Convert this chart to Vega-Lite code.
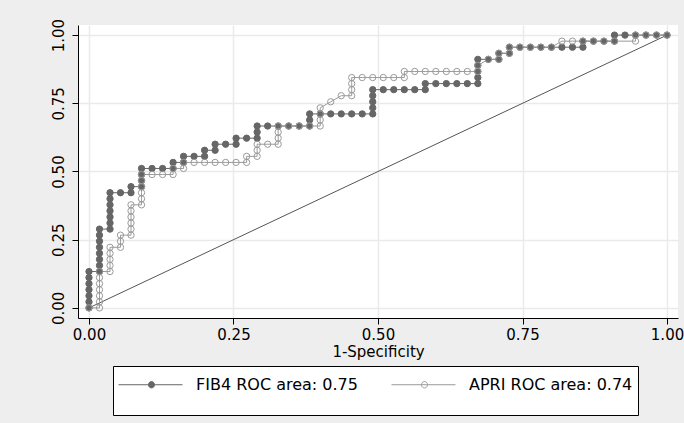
{
"$schema":"https://vega.github.io/schema/vega-lite/v6.json",
"width":600,"height":293,
"autosize":{"type":"none"},
"padding":{"left":78,"top":25,"right":6,"bottom":105},
"background":"#eeeeee",
"config":{
"view":{"fill":"#ffffff","stroke":null},
"font":"DejaVu Sans",
"axis":{"labelFont":"DejaVu Sans","labelFontSize":15,"labelColor":"#000000","tickColor":"#000000","domainColor":"#000000","tickSize":6,"gridColor":"#eaeaea","gridWidth":1.5,"domainWidth":1,"tickWidth":1,"titleFont":"DejaVu Sans","titleFontSize":15,"titleFontWeight":"normal","titleColor":"#000000","labelFlush":false,"labelOverlap":false},
"legend":{"orient":"none","legendX":35,"legendY":341,"direction":"horizontal","strokeColor":"#000000","fillColor":"#ffffff","padding":5,"columnPadding":31,"labelOffset":41,"symbolSize":1296,"symbolStrokeWidth":1,"symbolType":"M0,1M-1,-0.278L2.556,-0.278M0.667,-0.278A0.1667,0.1667 0 1,0 1,-0.278A0.1667,0.1667 0 1,0 0.667,-0.278Z","labelFont":"DejaVu Sans","labelFontSize":16,"labelColor":"#000000","labelBaseline":"alphabetic","labelLimit":400}
},
"datasets":{
"ref":[{"x":0,"y":0},{"x":1,"y":1}],
"roc":[
{"s":"FIB4 ROC area: 0.75","k":0,"x":0,"y":0},
{"s":"FIB4 ROC area: 0.75","k":1,"x":0,"y":0.0222},
{"s":"FIB4 ROC area: 0.75","k":2,"x":0,"y":0.0444},
{"s":"FIB4 ROC area: 0.75","k":3,"x":0,"y":0.0667},
{"s":"FIB4 ROC area: 0.75","k":4,"x":0,"y":0.0889},
{"s":"FIB4 ROC area: 0.75","k":5,"x":0,"y":0.1111},
{"s":"FIB4 ROC area: 0.75","k":6,"x":0,"y":0.1333},
{"s":"FIB4 ROC area: 0.75","k":7,"x":0.0182,"y":0.1333},
{"s":"FIB4 ROC area: 0.75","k":8,"x":0.0182,"y":0.1556},
{"s":"FIB4 ROC area: 0.75","k":9,"x":0.0182,"y":0.1778},
{"s":"FIB4 ROC area: 0.75","k":10,"x":0.0182,"y":0.2},
{"s":"FIB4 ROC area: 0.75","k":11,"x":0.0182,"y":0.2222},
{"s":"FIB4 ROC area: 0.75","k":12,"x":0.0182,"y":0.2444},
{"s":"FIB4 ROC area: 0.75","k":13,"x":0.0182,"y":0.2667},
{"s":"FIB4 ROC area: 0.75","k":14,"x":0.0182,"y":0.2889},
{"s":"FIB4 ROC area: 0.75","k":15,"x":0.0364,"y":0.2889},
{"s":"FIB4 ROC area: 0.75","k":16,"x":0.0364,"y":0.3111},
{"s":"FIB4 ROC area: 0.75","k":17,"x":0.0364,"y":0.3333},
{"s":"FIB4 ROC area: 0.75","k":18,"x":0.0364,"y":0.3556},
{"s":"FIB4 ROC area: 0.75","k":19,"x":0.0364,"y":0.3778},
{"s":"FIB4 ROC area: 0.75","k":20,"x":0.0364,"y":0.4},
{"s":"FIB4 ROC area: 0.75","k":21,"x":0.0364,"y":0.4222},
{"s":"FIB4 ROC area: 0.75","k":22,"x":0.0545,"y":0.4222},
{"s":"FIB4 ROC area: 0.75","k":23,"x":0.0727,"y":0.4222},
{"s":"FIB4 ROC area: 0.75","k":24,"x":0.0727,"y":0.4444},
{"s":"FIB4 ROC area: 0.75","k":25,"x":0.0909,"y":0.4444},
{"s":"FIB4 ROC area: 0.75","k":26,"x":0.0909,"y":0.4667},
{"s":"FIB4 ROC area: 0.75","k":27,"x":0.0909,"y":0.4889},
{"s":"FIB4 ROC area: 0.75","k":28,"x":0.0909,"y":0.5111},
{"s":"FIB4 ROC area: 0.75","k":29,"x":0.1091,"y":0.5111},
{"s":"FIB4 ROC area: 0.75","k":30,"x":0.1273,"y":0.5111},
{"s":"FIB4 ROC area: 0.75","k":31,"x":0.1455,"y":0.5111},
{"s":"FIB4 ROC area: 0.75","k":32,"x":0.1455,"y":0.5333},
{"s":"FIB4 ROC area: 0.75","k":33,"x":0.1636,"y":0.5333},
{"s":"FIB4 ROC area: 0.75","k":34,"x":0.1636,"y":0.5556},
{"s":"FIB4 ROC area: 0.75","k":35,"x":0.1818,"y":0.5556},
{"s":"FIB4 ROC area: 0.75","k":36,"x":0.2,"y":0.5556},
{"s":"FIB4 ROC area: 0.75","k":37,"x":0.2,"y":0.5778},
{"s":"FIB4 ROC area: 0.75","k":38,"x":0.2182,"y":0.5778},
{"s":"FIB4 ROC area: 0.75","k":39,"x":0.2182,"y":0.6},
{"s":"FIB4 ROC area: 0.75","k":40,"x":0.2364,"y":0.6},
{"s":"FIB4 ROC area: 0.75","k":41,"x":0.2545,"y":0.6},
{"s":"FIB4 ROC area: 0.75","k":42,"x":0.2545,"y":0.6222},
{"s":"FIB4 ROC area: 0.75","k":43,"x":0.2727,"y":0.6222},
{"s":"FIB4 ROC area: 0.75","k":44,"x":0.2909,"y":0.6222},
{"s":"FIB4 ROC area: 0.75","k":45,"x":0.2909,"y":0.6444},
{"s":"FIB4 ROC area: 0.75","k":46,"x":0.2909,"y":0.6667},
{"s":"FIB4 ROC area: 0.75","k":47,"x":0.3091,"y":0.6667},
{"s":"FIB4 ROC area: 0.75","k":48,"x":0.3273,"y":0.6667},
{"s":"FIB4 ROC area: 0.75","k":49,"x":0.3455,"y":0.6667},
{"s":"FIB4 ROC area: 0.75","k":50,"x":0.3636,"y":0.6667},
{"s":"FIB4 ROC area: 0.75","k":51,"x":0.3818,"y":0.6667},
{"s":"FIB4 ROC area: 0.75","k":52,"x":0.3818,"y":0.6889},
{"s":"FIB4 ROC area: 0.75","k":53,"x":0.3818,"y":0.7111},
{"s":"FIB4 ROC area: 0.75","k":54,"x":0.4,"y":0.7111},
{"s":"FIB4 ROC area: 0.75","k":55,"x":0.4182,"y":0.7111},
{"s":"FIB4 ROC area: 0.75","k":56,"x":0.4364,"y":0.7111},
{"s":"FIB4 ROC area: 0.75","k":57,"x":0.4545,"y":0.7111},
{"s":"FIB4 ROC area: 0.75","k":58,"x":0.4727,"y":0.7111},
{"s":"FIB4 ROC area: 0.75","k":59,"x":0.4909,"y":0.7111},
{"s":"FIB4 ROC area: 0.75","k":60,"x":0.4909,"y":0.7333},
{"s":"FIB4 ROC area: 0.75","k":61,"x":0.4909,"y":0.7556},
{"s":"FIB4 ROC area: 0.75","k":62,"x":0.4909,"y":0.7778},
{"s":"FIB4 ROC area: 0.75","k":63,"x":0.4909,"y":0.8},
{"s":"FIB4 ROC area: 0.75","k":64,"x":0.5091,"y":0.8},
{"s":"FIB4 ROC area: 0.75","k":65,"x":0.5273,"y":0.8},
{"s":"FIB4 ROC area: 0.75","k":66,"x":0.5455,"y":0.8},
{"s":"FIB4 ROC area: 0.75","k":67,"x":0.5636,"y":0.8},
{"s":"FIB4 ROC area: 0.75","k":68,"x":0.5818,"y":0.8},
{"s":"FIB4 ROC area: 0.75","k":69,"x":0.5818,"y":0.8222},
{"s":"FIB4 ROC area: 0.75","k":70,"x":0.6,"y":0.8222},
{"s":"FIB4 ROC area: 0.75","k":71,"x":0.6182,"y":0.8222},
{"s":"FIB4 ROC area: 0.75","k":72,"x":0.6364,"y":0.8222},
{"s":"FIB4 ROC area: 0.75","k":73,"x":0.6545,"y":0.8222},
{"s":"FIB4 ROC area: 0.75","k":74,"x":0.6727,"y":0.8222},
{"s":"FIB4 ROC area: 0.75","k":75,"x":0.6727,"y":0.8444},
{"s":"FIB4 ROC area: 0.75","k":76,"x":0.6727,"y":0.8667},
{"s":"FIB4 ROC area: 0.75","k":77,"x":0.6727,"y":0.8889},
{"s":"FIB4 ROC area: 0.75","k":78,"x":0.6727,"y":0.9111},
{"s":"FIB4 ROC area: 0.75","k":79,"x":0.6909,"y":0.9111},
{"s":"FIB4 ROC area: 0.75","k":80,"x":0.7091,"y":0.9111},
{"s":"FIB4 ROC area: 0.75","k":81,"x":0.7091,"y":0.9333},
{"s":"FIB4 ROC area: 0.75","k":82,"x":0.7273,"y":0.9333},
{"s":"FIB4 ROC area: 0.75","k":83,"x":0.7273,"y":0.9556},
{"s":"FIB4 ROC area: 0.75","k":84,"x":0.7455,"y":0.9556},
{"s":"FIB4 ROC area: 0.75","k":85,"x":0.7636,"y":0.9556},
{"s":"FIB4 ROC area: 0.75","k":86,"x":0.7818,"y":0.9556},
{"s":"FIB4 ROC area: 0.75","k":87,"x":0.8,"y":0.9556},
{"s":"FIB4 ROC area: 0.75","k":88,"x":0.8182,"y":0.9556},
{"s":"FIB4 ROC area: 0.75","k":89,"x":0.8364,"y":0.9556},
{"s":"FIB4 ROC area: 0.75","k":90,"x":0.8545,"y":0.9556},
{"s":"FIB4 ROC area: 0.75","k":91,"x":0.8545,"y":0.9778},
{"s":"FIB4 ROC area: 0.75","k":92,"x":0.8727,"y":0.9778},
{"s":"FIB4 ROC area: 0.75","k":93,"x":0.8909,"y":0.9778},
{"s":"FIB4 ROC area: 0.75","k":94,"x":0.9091,"y":0.9778},
{"s":"FIB4 ROC area: 0.75","k":95,"x":0.9091,"y":1},
{"s":"FIB4 ROC area: 0.75","k":96,"x":0.9273,"y":1},
{"s":"FIB4 ROC area: 0.75","k":97,"x":0.9455,"y":1},
{"s":"FIB4 ROC area: 0.75","k":98,"x":0.9636,"y":1},
{"s":"FIB4 ROC area: 0.75","k":99,"x":0.9818,"y":1},
{"s":"FIB4 ROC area: 0.75","k":100,"x":1,"y":1},
{"s":"APRI ROC area: 0.74","k":0,"x":0,"y":0},
{"s":"APRI ROC area: 0.74","k":1,"x":0.0182,"y":0},
{"s":"APRI ROC area: 0.74","k":2,"x":0.0182,"y":0.0222},
{"s":"APRI ROC area: 0.74","k":3,"x":0.0182,"y":0.0444},
{"s":"APRI ROC area: 0.74","k":4,"x":0.0182,"y":0.0667},
{"s":"APRI ROC area: 0.74","k":5,"x":0.0182,"y":0.0889},
{"s":"APRI ROC area: 0.74","k":6,"x":0.0182,"y":0.1111},
{"s":"APRI ROC area: 0.74","k":7,"x":0.0182,"y":0.1333},
{"s":"APRI ROC area: 0.74","k":8,"x":0.0364,"y":0.1333},
{"s":"APRI ROC area: 0.74","k":9,"x":0.0364,"y":0.1556},
{"s":"APRI ROC area: 0.74","k":10,"x":0.0364,"y":0.1778},
{"s":"APRI ROC area: 0.74","k":11,"x":0.0364,"y":0.2},
{"s":"APRI ROC area: 0.74","k":12,"x":0.0364,"y":0.2222},
{"s":"APRI ROC area: 0.74","k":13,"x":0.0545,"y":0.2222},
{"s":"APRI ROC area: 0.74","k":14,"x":0.0545,"y":0.2444},
{"s":"APRI ROC area: 0.74","k":15,"x":0.0545,"y":0.2667},
{"s":"APRI ROC area: 0.74","k":16,"x":0.0727,"y":0.2667},
{"s":"APRI ROC area: 0.74","k":17,"x":0.0727,"y":0.2889},
{"s":"APRI ROC area: 0.74","k":18,"x":0.0727,"y":0.3111},
{"s":"APRI ROC area: 0.74","k":19,"x":0.0727,"y":0.3333},
{"s":"APRI ROC area: 0.74","k":20,"x":0.0727,"y":0.3556},
{"s":"APRI ROC area: 0.74","k":21,"x":0.0727,"y":0.3778},
{"s":"APRI ROC area: 0.74","k":22,"x":0.0909,"y":0.3778},
{"s":"APRI ROC area: 0.74","k":23,"x":0.0909,"y":0.4},
{"s":"APRI ROC area: 0.74","k":24,"x":0.0909,"y":0.4222},
{"s":"APRI ROC area: 0.74","k":25,"x":0.0909,"y":0.4444},
{"s":"APRI ROC area: 0.74","k":26,"x":0.0909,"y":0.4667},
{"s":"APRI ROC area: 0.74","k":27,"x":0.0909,"y":0.4889},
{"s":"APRI ROC area: 0.74","k":28,"x":0.1091,"y":0.4889},
{"s":"APRI ROC area: 0.74","k":29,"x":0.1273,"y":0.4889},
{"s":"APRI ROC area: 0.74","k":30,"x":0.1455,"y":0.4889},
{"s":"APRI ROC area: 0.74","k":31,"x":0.1455,"y":0.5111},
{"s":"APRI ROC area: 0.74","k":32,"x":0.1636,"y":0.5111},
{"s":"APRI ROC area: 0.74","k":33,"x":0.1636,"y":0.5333},
{"s":"APRI ROC area: 0.74","k":34,"x":0.1818,"y":0.5333},
{"s":"APRI ROC area: 0.74","k":35,"x":0.2,"y":0.5333},
{"s":"APRI ROC area: 0.74","k":36,"x":0.2182,"y":0.5333},
{"s":"APRI ROC area: 0.74","k":37,"x":0.2364,"y":0.5333},
{"s":"APRI ROC area: 0.74","k":38,"x":0.2545,"y":0.5333},
{"s":"APRI ROC area: 0.74","k":39,"x":0.2727,"y":0.5333},
{"s":"APRI ROC area: 0.74","k":40,"x":0.2727,"y":0.5556},
{"s":"APRI ROC area: 0.74","k":41,"x":0.2909,"y":0.5556},
{"s":"APRI ROC area: 0.74","k":42,"x":0.2909,"y":0.5778},
{"s":"APRI ROC area: 0.74","k":43,"x":0.2909,"y":0.6},
{"s":"APRI ROC area: 0.74","k":44,"x":0.3091,"y":0.6},
{"s":"APRI ROC area: 0.74","k":45,"x":0.3273,"y":0.6},
{"s":"APRI ROC area: 0.74","k":46,"x":0.3273,"y":0.6222},
{"s":"APRI ROC area: 0.74","k":47,"x":0.3273,"y":0.6444},
{"s":"APRI ROC area: 0.74","k":48,"x":0.3273,"y":0.6667},
{"s":"APRI ROC area: 0.74","k":49,"x":0.3455,"y":0.6667},
{"s":"APRI ROC area: 0.74","k":50,"x":0.3636,"y":0.6667},
{"s":"APRI ROC area: 0.74","k":51,"x":0.3818,"y":0.6667},
{"s":"APRI ROC area: 0.74","k":52,"x":0.4,"y":0.6667},
{"s":"APRI ROC area: 0.74","k":53,"x":0.4,"y":0.6889},
{"s":"APRI ROC area: 0.74","k":54,"x":0.4,"y":0.7111},
{"s":"APRI ROC area: 0.74","k":55,"x":0.4,"y":0.7333},
{"s":"APRI ROC area: 0.74","k":56,"x":0.4182,"y":0.7556},
{"s":"APRI ROC area: 0.74","k":57,"x":0.4364,"y":0.7778},
{"s":"APRI ROC area: 0.74","k":58,"x":0.4545,"y":0.7778},
{"s":"APRI ROC area: 0.74","k":59,"x":0.4545,"y":0.8},
{"s":"APRI ROC area: 0.74","k":60,"x":0.4545,"y":0.8222},
{"s":"APRI ROC area: 0.74","k":61,"x":0.4545,"y":0.8444},
{"s":"APRI ROC area: 0.74","k":62,"x":0.4727,"y":0.8444},
{"s":"APRI ROC area: 0.74","k":63,"x":0.4909,"y":0.8444},
{"s":"APRI ROC area: 0.74","k":64,"x":0.5091,"y":0.8444},
{"s":"APRI ROC area: 0.74","k":65,"x":0.5273,"y":0.8444},
{"s":"APRI ROC area: 0.74","k":66,"x":0.5455,"y":0.8444},
{"s":"APRI ROC area: 0.74","k":67,"x":0.5455,"y":0.8667},
{"s":"APRI ROC area: 0.74","k":68,"x":0.5636,"y":0.8667},
{"s":"APRI ROC area: 0.74","k":69,"x":0.5818,"y":0.8667},
{"s":"APRI ROC area: 0.74","k":70,"x":0.6,"y":0.8667},
{"s":"APRI ROC area: 0.74","k":71,"x":0.6182,"y":0.8667},
{"s":"APRI ROC area: 0.74","k":72,"x":0.6364,"y":0.8667},
{"s":"APRI ROC area: 0.74","k":73,"x":0.6545,"y":0.8667},
{"s":"APRI ROC area: 0.74","k":74,"x":0.6727,"y":0.8667},
{"s":"APRI ROC area: 0.74","k":75,"x":0.6727,"y":0.8889},
{"s":"APRI ROC area: 0.74","k":76,"x":0.6909,"y":0.9111},
{"s":"APRI ROC area: 0.74","k":77,"x":0.7091,"y":0.9111},
{"s":"APRI ROC area: 0.74","k":78,"x":0.7091,"y":0.9333},
{"s":"APRI ROC area: 0.74","k":79,"x":0.7273,"y":0.9333},
{"s":"APRI ROC area: 0.74","k":80,"x":0.7273,"y":0.9556},
{"s":"APRI ROC area: 0.74","k":81,"x":0.7455,"y":0.9556},
{"s":"APRI ROC area: 0.74","k":82,"x":0.7636,"y":0.9556},
{"s":"APRI ROC area: 0.74","k":83,"x":0.7818,"y":0.9556},
{"s":"APRI ROC area: 0.74","k":84,"x":0.8,"y":0.9556},
{"s":"APRI ROC area: 0.74","k":85,"x":0.8182,"y":0.9778},
{"s":"APRI ROC area: 0.74","k":86,"x":0.8364,"y":0.9778},
{"s":"APRI ROC area: 0.74","k":87,"x":0.8545,"y":0.9778},
{"s":"APRI ROC area: 0.74","k":88,"x":0.8727,"y":0.9778},
{"s":"APRI ROC area: 0.74","k":89,"x":0.8909,"y":0.9778},
{"s":"APRI ROC area: 0.74","k":90,"x":0.9091,"y":0.9778},
{"s":"APRI ROC area: 0.74","k":91,"x":0.9455,"y":0.9778},
{"s":"APRI ROC area: 0.74","k":92,"x":0.9455,"y":1},
{"s":"APRI ROC area: 0.74","k":93,"x":0.9636,"y":1},
{"s":"APRI ROC area: 0.74","k":94,"x":0.9818,"y":1},
{"s":"APRI ROC area: 0.74","k":95,"x":1,"y":1}
]},
"encoding":{
"x":{"field":"x","type":"quantitative","scale":{"domain":[-0.019,1.019],"nice":false,"zero":false},"axis":{"values":[0,0.25,0.5,0.75,1],"format":".2f","title":"1-Specificity","labelPadding":3,"titlePadding":2}},
"y":{"field":"y","type":"quantitative","scale":{"domain":[-0.037,1.037],"nice":false,"zero":false},"axis":{"values":[0,0.25,0.5,0.75,1],"format":".2f","title":null,"labelAngle":-90,"labelAlign":"center","labelBaseline":"bottom","labelPadding":6}}
},
"layer":[
{"data":{"name":"ref"},"mark":{"type":"line","color":"#555555","strokeWidth":1}},
{"data":{"name":"roc"},"mark":{"type":"line","strokeWidth":1},"encoding":{
"stroke":{"field":"s","type":"nominal","scale":{"domain":["FIB4 ROC area: 0.75","APRI ROC area: 0.74"],"range":["#666666","#9a9a9a"]},"legend":{"title":null}},
"order":{"field":"k","type":"quantitative"}}},
{"data":{"name":"roc"},"mark":{"type":"point","size":40,"strokeWidth":1,"opacity":1},"encoding":{
"stroke":{"field":"s","type":"nominal","scale":{"domain":["FIB4 ROC area: 0.75","APRI ROC area: 0.74"],"range":["#666666","#9a9a9a"]},"legend":{"title":null}},
"fill":{"field":"s","type":"nominal","scale":{"domain":["FIB4 ROC area: 0.75","APRI ROC area: 0.74"],"range":["#666666","transparent"]},"legend":{"title":null}}}}
]
}
